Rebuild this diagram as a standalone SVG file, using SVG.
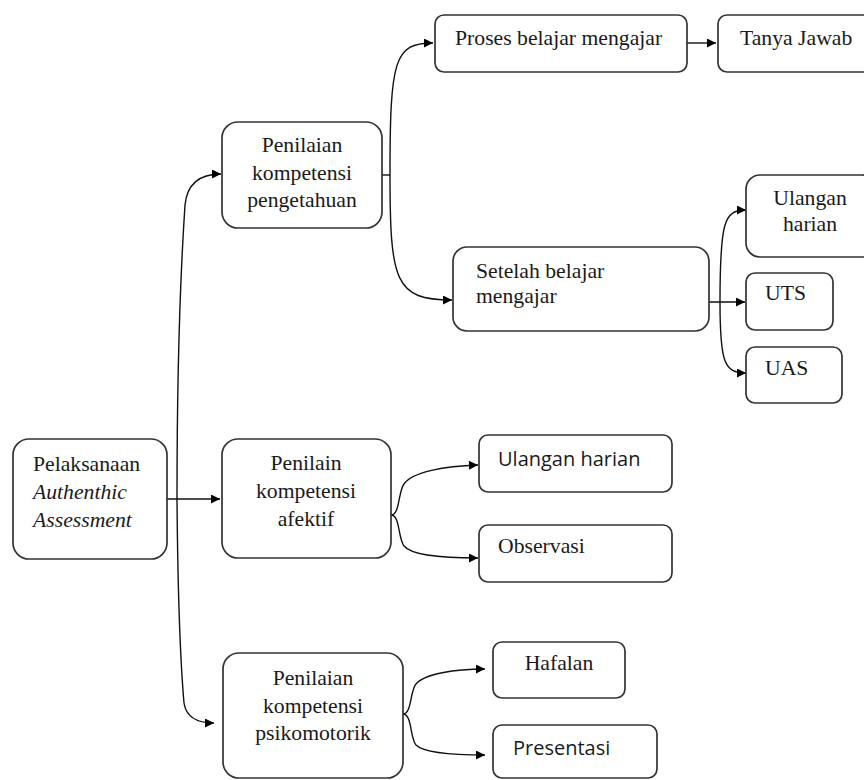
<svg xmlns="http://www.w3.org/2000/svg" width="864" height="780" viewBox="0 0 864 780">
<defs>
<marker id="ah" viewBox="0 0 10 10" refX="10" refY="5" markerWidth="10" markerHeight="9" markerUnits="userSpaceOnUse" orient="auto">
<path d="M0,0 L10,5 L0,10 z" fill="#000"/>
</marker>
<style>
.box{fill:#fff;stroke:#333;stroke-width:1.7}
.t{font-family:"Liberation Serif","Times New Roman",serif;font-size:21.7px;fill:#1a1a1a}
.s{font-family:"Open Sans","Noto Sans",sans-serif;font-size:20px;fill:#1a1a1a}
.c{text-anchor:middle}
.e{fill:none;stroke:#111;stroke-width:1.4}
</style>
</defs>
<rect width="864" height="780" fill="#fff"/>
<g id="connectors">
<path class="e" d="M167 499 L220 499" marker-end="url(#ah)"/>
<path class="e" d="M177 499 C177 350 182 250 185 205 Q188 174 221 174" marker-end="url(#ah)"/>
<path class="e" d="M177 499 C178 620 182 680 184 703 Q187 723 214 723" marker-end="url(#ah)"/>
<path class="e" d="M382 175 L390 175"/>
<path class="e" d="M390 175 C390 60 394 43 433 43" marker-end="url(#ah)"/>
<path class="e" d="M390 175 C390 282 395 300 452 300" marker-end="url(#ah)"/>
<path class="e" d="M687 43 L716 43" marker-end="url(#ah)"/>
<path class="e" d="M709 302 L745 302" marker-end="url(#ah)"/>
<path class="e" d="M720 302 C720 222 724 210 746 210" marker-end="url(#ah)"/>
<path class="e" d="M720 302 C720 362 724 373 746 373" marker-end="url(#ah)"/>
<path class="e" d="M391 515 C400 515 398 492 404 484 C412 472 445 466 478 465" marker-end="url(#ah)"/>
<path class="e" d="M391 515 C400 515 398 538 404 546 C412 556 445 558 478 558" marker-end="url(#ah)"/>
<path class="e" d="M403 714 C412 714 410 690 416 684 C424 674 455 669 485 669" marker-end="url(#ah)"/>
<path class="e" d="M403 714 C412 714 410 738 416 745 C424 753 455 755 485 755" marker-end="url(#ah)"/>
</g>
<g id="pelaksanaan">
<rect class="box" x="13" y="439" width="154" height="120" rx="16"/>
<text class="t" x="33" y="471">Pelaksanaan</text>
<text class="t" x="33" y="499" font-style="italic">Authenthic</text>
<text class="t" x="33" y="527" font-style="italic">Assessment</text>
</g>
<g id="pengetahuan">
<rect class="box" x="222" y="122" width="160" height="106" rx="16"/>
<text class="t c" x="302" y="152">Penilaian</text>
<text class="t c" x="302" y="180">kompetensi</text>
<text class="t c" x="302" y="207">pengetahuan</text>
</g>
<g id="proses">
<rect class="box" x="435" y="15" width="252" height="57" rx="9"/>
<text class="t" x="455" y="45">Proses belajar mengajar</text>
</g>
<g id="tanya">
<rect class="box" x="718" y="15" width="160" height="57" rx="9"/>
<text class="t" x="740" y="45">Tanya Jawab</text>
</g>
<g id="setelah">
<rect class="box" x="453" y="247" width="256" height="84" rx="14"/>
<text class="t" x="476" y="278">Setelah belajar</text>
<text class="t" x="476" y="303">mengajar</text>
</g>
<g id="ulangan1">
<rect class="box" x="746" y="175" width="130" height="82" rx="14"/>
<text class="t c" x="810" y="205">Ulangan</text>
<text class="t c" x="810" y="231">harian</text>
</g>
<g id="uts">
<rect class="box" x="746" y="273" width="87" height="57" rx="9"/>
<text class="t" x="765" y="300">UTS</text>
</g>
<g id="uas">
<rect class="box" x="746" y="347" width="96" height="56" rx="9"/>
<text class="t" x="765" y="375">UAS</text>
</g>
<g id="afektif">
<rect class="box" x="222" y="439" width="169" height="119" rx="16"/>
<text class="t c" x="306" y="470">Penilain</text>
<text class="t c" x="306" y="498">kompetensi</text>
<text class="t c" x="306" y="526">afektif</text>
</g>
<g id="ulangan2">
<rect class="box" x="479" y="435" width="193" height="57" rx="9"/>
<text class="s" x="498" y="466">Ulangan harian</text>
</g>
<g id="observasi">
<rect class="box" x="479" y="525" width="193" height="57" rx="9"/>
<text class="t" x="498" y="553">Observasi</text>
</g>
<g id="psikomotorik">
<rect class="box" x="223" y="653" width="180" height="125" rx="16"/>
<text class="t c" x="313" y="685">Penilaian</text>
<text class="t c" x="313" y="713">kompetensi</text>
<text class="t c" x="313" y="740">psikomotorik</text>
</g>
<g id="hafalan">
<rect class="box" x="493" y="642" width="132" height="56" rx="9"/>
<text class="t c" x="559" y="670">Hafalan</text>
</g>
<g id="presentasi">
<rect class="box" x="493" y="725" width="164" height="53" rx="9"/>
<text class="s" x="513" y="755">Presentasi</text>
</g>
</svg>
